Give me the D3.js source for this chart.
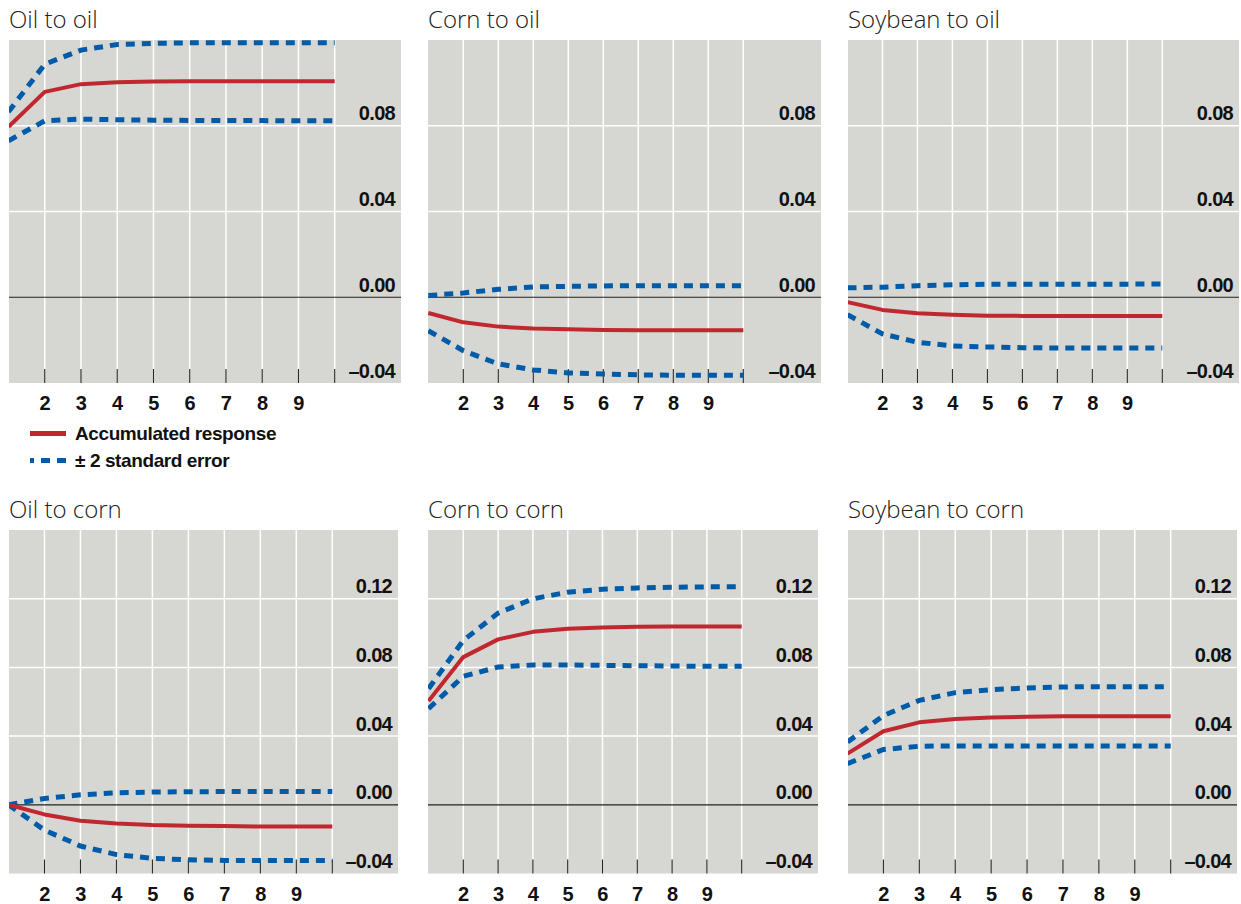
<!DOCTYPE html>
<html>
<head>
<meta charset="utf-8">
<script src="https://cdn.jsdelivr.net/npm/d3@7"></script>
<style>
  body { margin: 0; background: #fff; }
  svg { display: block; }
  .title { font-family: "Open Sans", sans-serif; font-weight: 300; font-size: 24px; fill: #222; }
  .num { font-family: "Liberation Sans", Arial, sans-serif; font-weight: bold; font-size: 20px; letter-spacing: -0.7px; fill: #111; }
  .leg { font-family: "Liberation Sans", Arial, sans-serif; font-weight: bold; font-size: 19px; letter-spacing: -0.4px; fill: #111; }
</style>
</head>
<body>
<svg width="1241" height="904"></svg>
<script>
let width = 1241;
let height = 904;

let steps = [1, 2, 3, 4, 5, 6, 7, 8, 9, 10];
let xTickLabels = [2, 3, 4, 5, 6, 7, 8, 9];
let topTicks = [-0.04, 0.00, 0.04, 0.08];
let bottomTicks = [-0.04, 0.00, 0.04, 0.08, 0.12];
let titles = ['Oil to oil', 'Corn to oil', 'Soybean to oil', 'Oil to corn', 'Corn to corn', 'Soybean to corn'];

// accumulated response and +/- 2 standard error bands, periods 1..10
let oilToOil      = [0.0795, 0.0958, 0.0994, 0.1003, 0.1006, 0.1007, 0.1007, 0.1007, 0.1007, 0.1007];
let oilToOilUp    = [0.0865, 0.1087, 0.1153, 0.1179, 0.1184, 0.1187, 0.1187, 0.1187, 0.1187, 0.1187];
let oilToOilLo    = [0.0730, 0.0823, 0.0831, 0.0828, 0.0826, 0.0825, 0.0824, 0.0824, 0.0823, 0.0823];

let cornToOil     = [-0.0073, -0.0117, -0.0137, -0.0146, -0.0149, -0.0153, -0.0154, -0.0154, -0.0154, -0.0154];
let cornToOilUp   = [0.0008, 0.0020, 0.0037, 0.0048, 0.0051, 0.0053, 0.0054, 0.0054, 0.0054, 0.0054];
let cornToOilLo   = [-0.0156, -0.0249, -0.0311, -0.0339, -0.0353, -0.0358, -0.0362, -0.0364, -0.0364, -0.0364];

let soyToOil      = [-0.0023, -0.0059, -0.0075, -0.0082, -0.0086, -0.0087, -0.0087, -0.0087, -0.0087, -0.0087];
let soyToOilUp    = [0.0044, 0.0047, 0.0054, 0.0058, 0.0061, 0.0061, 0.0061, 0.0061, 0.0061, 0.0062];
let soyToOilLo    = [-0.0081, -0.0171, -0.0210, -0.0227, -0.0232, -0.0235, -0.0237, -0.0237, -0.0237, -0.0237];

let oilToCorn     = [0.0000, -0.0056, -0.0093, -0.0109, -0.0118, -0.0122, -0.0124, -0.0126, -0.0126, -0.0126];
let oilToCornUp   = [0.0000, 0.0037, 0.0058, 0.0070, 0.0074, 0.0076, 0.0077, 0.0077, 0.0077, 0.0077];
let oilToCornLo   = [0.0000, -0.0147, -0.0240, -0.0290, -0.0312, -0.0320, -0.0324, -0.0325, -0.0325, -0.0325];

let cornToCorn    = [0.0604, 0.0860, 0.0963, 0.1007, 0.1025, 0.1032, 0.1036, 0.1038, 0.1038, 0.1038];
let cornToCornUp  = [0.0676, 0.0957, 0.1116, 0.1199, 0.1238, 0.1255, 0.1263, 0.1267, 0.1269, 0.1269];
let cornToCornLo  = [0.0560, 0.0748, 0.0802, 0.0814, 0.0814, 0.0812, 0.0810, 0.0808, 0.0806, 0.0806];

let soyToCorn     = [0.0298, 0.0428, 0.0480, 0.0500, 0.0508, 0.0513, 0.0515, 0.0515, 0.0515, 0.0515];
let soyToCornUp   = [0.0366, 0.0519, 0.0608, 0.0653, 0.0670, 0.0680, 0.0686, 0.0688, 0.0688, 0.0688];
let soyToCornLo   = [0.0240, 0.0322, 0.0341, 0.0343, 0.0343, 0.0343, 0.0343, 0.0343, 0.0343, 0.0342];

let red = '#c1272f';
let blue = '#005ca8';
let panelFill = '#d6d6d2';

// panel boxes: left/right edges, pixel of period 1 and period 10, top/bottom
let panels = [
  { left: 9,   right: 401,  p1: 8.5,  p10: 334.7,  top: 40,  bottom: 383,   yMax: 0.12, ticks: topTicks,    resp: oilToOil,   up: oilToOilUp,   lo: oilToOilLo },
  { left: 428, right: 821,  p1: 428.3, p10: 743.3, top: 40,  bottom: 383,   yMax: 0.12, ticks: topTicks,    resp: cornToOil,  up: cornToOilUp,  lo: cornToOilLo },
  { left: 848, right: 1239, p1: 847.5, p10: 1162.3, top: 40, bottom: 383,   yMax: 0.12, ticks: topTicks,    resp: soyToOil,   up: soyToOilUp,   lo: soyToOilLo },
  { left: 9,   right: 398,  p1: 8.5,  p10: 332.3,  top: 530, bottom: 873.5, yMax: 0.16, ticks: bottomTicks, resp: oilToCorn,  up: oilToCornUp,  lo: oilToCornLo },
  { left: 428, right: 818,  p1: 428.5, p10: 741.7, top: 530, bottom: 873.5, yMax: 0.16, ticks: bottomTicks, resp: cornToCorn, up: cornToCornUp, lo: cornToCornLo },
  { left: 848, right: 1237, p1: 847.5, p10: 1170.7, top: 530, bottom: 873.5, yMax: 0.16, ticks: bottomTicks, resp: soyToCorn, up: soyToCornUp,  lo: soyToCornLo }
];

let svg = d3.select('svg')
  .attr('width', width)
  .attr('height', height);

let fmt = v => v < 0 ? '\u2013' + d3.format('.2f')(-v) : d3.format('.2f')(v);

panels.forEach((p, i) => {
  let xScale = d3.scaleLinear().domain([1, 10]).range([p.p1, p.p10]);
  let yScale = d3.scaleLinear().domain([-0.04, p.yMax]).range([p.bottom, p.top]);
  let g = svg.append('g');

  g.append('clipPath')
    .attr('id', 'clip' + i)
  .append('rect')
    .attr('x', p.left)
    .attr('y', p.top)
    .attr('width', p.right - p.left)
    .attr('height', p.bottom - p.top);

  g.append('rect')
    .attr('x', p.left)
    .attr('y', p.top)
    .attr('width', p.right - p.left)
    .attr('height', p.bottom - p.top)
    .attr('fill', panelFill);

  g.append('text')
    .attr('class', 'title')
    .attr('x', p.left)
    .attr('y', p.top - 12)
    .text(titles[i]);

  // horizontal grid
  g.selectAll('.hgrid')
    .data(p.ticks.filter(t => t !== 0 && t > -0.04))
    .enter()
    .append('line')
      .attr('x1', p.left)
      .attr('x2', p.right)
      .attr('y1', d => yScale(d))
      .attr('y2', d => yScale(d))
      .attr('stroke', '#fff')
      .attr('stroke-width', 1.5);

  // vertical grid with black ticks at the bottom
  let vTicks = steps.slice(1);
  g.selectAll('.vgrid')
    .data(vTicks)
    .enter()
    .append('line')
      .attr('x1', d => xScale(d))
      .attr('x2', d => xScale(d))
      .attr('y1', p.top)
      .attr('y2', p.bottom - 14)
      .attr('stroke', '#fff')
      .attr('stroke-width', 1.5);

  g.selectAll('.vtick')
    .data(vTicks)
    .enter()
    .append('line')
      .attr('x1', d => xScale(d))
      .attr('x2', d => xScale(d))
      .attr('y1', p.bottom - 14)
      .attr('y2', p.bottom)
      .attr('stroke', '#222')
      .attr('stroke-width', 1);

  g.append('line')
    .attr('x1', p.left)
    .attr('x2', p.right)
    .attr('y1', yScale(0))
    .attr('y2', yScale(0))
    .attr('stroke', '#222')
    .attr('stroke-width', 1.2);

  g.selectAll('.ylab')
    .data(p.ticks)
    .enter()
    .append('text')
      .attr('class', 'num')
      .attr('x', p.right - 6)
      .attr('y', d => yScale(d) - 5.5)
      .attr('text-anchor', 'end')
      .text(fmt);

  g.selectAll('.xlab')
    .data(xTickLabels)
    .enter()
    .append('text')
      .attr('class', 'num')
      .attr('x', d => xScale(d))
      .attr('y', p.bottom + 27)
      .attr('text-anchor', 'middle')
      .text(d => d);

  let line = d3.line()
    .x((d, j) => xScale(steps[j]))
    .y(d => yScale(d));

  let lines = g.append('g').attr('clip-path', 'url(#clip' + i + ')');

  [p.up, p.lo].forEach(s => {
    lines.append('path')
      .attr('d', line(s))
      .attr('fill', 'none')
      .attr('stroke', blue)
      .attr('stroke-width', 5)
      .attr('stroke-dasharray', '9,7');
  });

  lines.append('path')
    .attr('d', line(p.resp))
    .attr('fill', 'none')
    .attr('stroke', red)
    .attr('stroke-width', 4)
    .attr('stroke-linejoin', 'round');
});

// legend
let legend = svg.append('g');

legend.append('line')
  .attr('x1', 30).attr('x2', 66)
  .attr('y1', 433.5).attr('y2', 433.5)
  .attr('stroke', red)
  .attr('stroke-width', 5);

legend.append('text')
  .attr('class', 'leg')
  .attr('x', 75)
  .attr('y', 440)
  .text('Accumulated response');

legend.append('line')
  .attr('x1', 66).attr('x2', 30)
  .attr('y1', 460.5).attr('y2', 460.5)
  .attr('stroke', blue)
  .attr('stroke-width', 5)
  .attr('stroke-dasharray', '9,7');

legend.append('text')
  .attr('class', 'leg')
  .attr('x', 75)
  .attr('y', 467)
  .text('\u00b1 2 standard error');
</script>
</body>
</html>
